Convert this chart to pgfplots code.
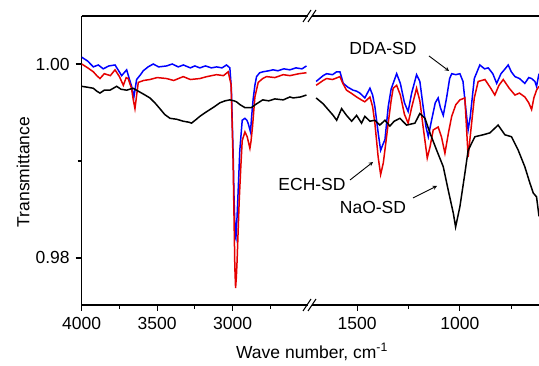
\documentclass[border=0pt]{standalone}
\usepackage{fontspec}
\setmainfont{Liberation Sans}
\usepackage{pgfplots}
\pgfplotsset{compat=1.18}
\begin{document}
\fontsize{17.5}{20}\selectfont
\begin{tikzpicture}
\useasboundingbox (0pt,0pt) rectangle (539pt,366pt);
\pgfplotsset{
  common/.style={
    scale only axis, height=289pt,
    ymin=0.97515, ymax=1.00495,
    x dir=reverse,
    tick align=outside,
    axis line style={line width=1.1pt,-},
    major tick length=6pt, minor tick length=4pt,
    every tick/.style={black,line width=1.1pt},
    /pgf/number format/assume math mode=true,
    tick label style={font=\fontsize{17.5}{20}\selectfont},
    clip mode=individual,
    /pgf/number format/.cd, fixed, 1000 sep={},
  },
}
% left panel
\begin{axis}[common, at={(81.7pt,61pt)}, anchor=south west, width=226.3pt,
  xmin=2500, xmax=4000,
  axis x line*=bottom, axis y line*=left,
  xtick={3000,3500,4000}, minor xtick={2750,3250,3750},
  ytick={0.98,1.00}, minor ytick={0.99},
  yticklabel style={/pgf/number format/.cd,fixed,fixed zerofill,precision=2}]
\addplot[blue, line width=1.5pt] coordinates {
(4000,1.0007)(3960,1.0003)(3923,0.9997)(3890,0.9999)(3857,0.9995)(3820,0.9998)(3779,0.9999)(3755,0.9993)(3735,0.9988)(3702,0.9994)(3685,0.9985)(3669,0.9977)(3654,0.9966)(3636,0.9984)(3610,0.9989)(3592,0.9993)(3560,0.9997)(3526,1.0000)(3490,0.9997)(3437,0.9998)(3400,1.0000)(3360,0.9997)(3326,0.9999)(3280,0.9996)(3250,0.9998)(3217,0.9996)(3180,0.9998)(3140,0.9996)(3106,0.9997)(3070,0.9996)(3040,0.9999)(3018,0.9996)(3008,0.9975)(3003,0.9946)(2995,0.9900)(2990,0.9860)(2982,0.9822)(2978,0.9820)(2970,0.9843)(2960,0.9880)(2952,0.9911)(2936,0.9942)(2918,0.9944)(2905,0.9942)(2897,0.9939)(2881,0.9930)(2874,0.9945)(2864,0.9963)(2852,0.9978)(2841,0.9987)(2820,0.9991)(2797,0.9992)(2760,0.9993)(2731,0.9994)(2700,0.9993)(2660,0.9995)(2620,0.9994)(2580,0.9996)(2540,0.9995)(2510,0.9998)};
\addplot[red!90!black, line width=1.5pt] coordinates {
(4000,1.0000)(3960,0.9996)(3923,0.9992)(3900,0.9988)(3879,0.9985)(3850,0.9990)(3810,0.9988)(3779,0.9994)(3750,0.9987)(3724,0.9978)(3705,0.9986)(3692,0.9985)(3670,0.9975)(3658,0.9963)(3647,0.9954)(3625,0.9981)(3590,0.9983)(3548,0.9984)(3500,0.9986)(3437,0.9985)(3390,0.9983)(3327,0.9987)(3280,0.9984)(3217,0.9985)(3170,0.9987)(3106,0.9989)(3060,0.9988)(3029,0.9992)(3010,0.9979)(3003,0.9940)(2996,0.9896)(2988,0.9820)(2985,0.9791)(2980,0.9769)(2975,0.9780)(2970,0.9797)(2956,0.9859)(2945,0.9895)(2936,0.9921)(2918,0.9930)(2903,0.9925)(2885,0.9913)(2878,0.9920)(2868,0.9935)(2852,0.9966)(2830,0.9981)(2800,0.9985)(2775,0.9987)(2720,0.9986)(2664,0.9989)(2620,0.9988)(2560,0.9990)(2510,0.9991)};
\addplot[black, line width=1.5pt] coordinates {
(4000,0.9977)(3960,0.9976)(3923,0.9975)(3900,0.9972)(3879,0.9970)(3850,0.9973)(3813,0.9973)(3790,0.9975)(3768,0.9977)(3740,0.9974)(3702,0.9973)(3660,0.9975)(3614,0.9971)(3580,0.9968)(3548,0.9965)(3515,0.9960)(3482,0.9954)(3450,0.9948)(3415,0.9944)(3370,0.9943)(3327,0.9941)(3290,0.9940)(3272,0.9939)(3240,0.9943)(3217,0.9946)(3180,0.9950)(3150,0.9953)(3120,0.9956)(3084,0.9960)(3050,0.9962)(3018,0.9963)(2990,0.9962)(2974,0.9961)(2950,0.9958)(2918,0.9955)(2890,0.9955)(2875,0.9955)(2850,0.9958)(2830,0.9960)(2800,0.9963)(2760,0.9962)(2720,0.9964)(2664,0.9963)(2620,0.9966)(2598,0.9965)(2550,0.9966)(2510,0.9968)};
\draw[line width=1.1pt] (rel axis cs:0,1) -- (rel axis cs:1,1);
\end{axis}
% right panel
\begin{axis}[common, at={(311pt,61pt)}, anchor=south west, width=228pt,
  xmin=615, xmax=1725,
  axis x line*=bottom, hide y axis,
  xtick={1000,1500}, minor xtick={750,1250}]
\addplot[blue, line width=1.5pt] coordinates {
(1700,0.9982)(1666,0.9988)(1649,0.9990)(1620,0.9989)(1600,0.9992)(1584,0.9992)(1568,0.9980)(1545,0.9976)(1520,0.9973)(1503,0.9972)(1487,0.9970)(1463,0.9965)(1438,0.9975)(1425,0.9968)(1414,0.9956)(1398,0.9929)(1386,0.9911)(1375,0.9917)(1365,0.9922)(1349,0.9956)(1335,0.9974)(1325,0.9980)(1308,0.9990)(1290,0.9980)(1270,0.9960)(1252,0.9951)(1235,0.9970)(1211,0.9989)(1195,0.9982)(1179,0.9956)(1165,0.9935)(1154,0.9925)(1140,0.9940)(1120,0.9960)(1106,0.9965)(1095,0.9955)(1081,0.9947)(1065,0.9965)(1050,0.9985)(1040,0.9990)(1020,0.9989)(1000,0.9990)(985,0.9982)(972,0.9955)(960,0.9932)(950,0.9945)(930,0.9985)(903,0.9999)(880,0.9995)(862,0.9996)(840,0.9990)(821,0.9980)(800,0.9990)(780,0.9995)(765,0.9999)(750,0.9992)(732,0.9987)(710,0.9985)(684,0.9980)(665,0.9986)(651,0.9985)(635,0.9982)(627,0.9977)(615,0.9990)};
\addplot[red!90!black, line width=1.5pt] coordinates {
(1700,0.9978)(1666,0.9983)(1649,0.9985)(1620,0.9984)(1584,0.9987)(1570,0.9980)(1552,0.9973)(1530,0.9970)(1503,0.9966)(1480,0.9963)(1463,0.9961)(1438,0.9966)(1425,0.9956)(1414,0.9939)(1398,0.9904)(1386,0.9886)(1373,0.9898)(1360,0.9920)(1349,0.9939)(1335,0.9962)(1325,0.9975)(1308,0.9978)(1290,0.9968)(1270,0.9948)(1252,0.9939)(1235,0.9955)(1211,0.9975)(1195,0.9962)(1179,0.9935)(1159,0.9903)(1145,0.9915)(1130,0.9932)(1106,0.9935)(1090,0.9925)(1073,0.9908)(1055,0.9930)(1040,0.9946)(1020,0.9958)(1000,0.9963)(976,0.9965)(968,0.9935)(960,0.9904)(950,0.9925)(930,0.9965)(911,0.9982)(878,0.9984)(850,0.9975)(830,0.9968)(810,0.9978)(789,0.9984)(760,0.9975)(732,0.9968)(710,0.9970)(684,0.9966)(665,0.9960)(651,0.9953)(640,0.9965)(627,0.9973)(615,0.9977)};
\addplot[black, line width=1.5pt] coordinates {
(1700,0.9965)(1666,0.9959)(1617,0.9947)(1600,0.9942)(1576,0.9954)(1552,0.9947)(1527,0.9941)(1503,0.9947)(1479,0.9939)(1463,0.9946)(1438,0.9941)(1414,0.9942)(1390,0.9937)(1365,0.9942)(1341,0.9936)(1320,0.9941)(1292,0.9944)(1260,0.9937)(1219,0.9939)(1195,0.9949)(1170,0.9944)(1146,0.9929)(1113,0.9911)(1081,0.9894)(1057,0.9870)(1032,0.9846)(1021,0.9832)(1000,0.9853)(976,0.9887)(960,0.9911)(927,0.9925)(887,0.9927)(854,0.9929)(814,0.9937)(781,0.9927)(749,0.9925)(716,0.9911)(684,0.9894)(659,0.9877)(643,0.9867)(627,0.9863)(615,0.9843)};
\draw[line width=1.1pt] (rel axis cs:0,1) -- (rel axis cs:1,1);
\end{axis}
% axis break marks
\fill[white] (308.5pt,55pt) rectangle (311.5pt,67pt);
\fill[white] (308.5pt,344pt) rectangle (311.5pt,356pt);
\foreach \yy in {61,350} {
  \draw[line width=1.1pt] (303pt,\yy pt-6pt) -- (311pt,\yy pt+6pt);
  \draw[line width=1.1pt] (308pt,\yy pt-6pt) -- (316pt,\yy pt+6pt);
}
% labels
\node[rotate=90] at (23pt,194pt) {Transmittance};
\node at (312pt,14pt) {Wave number, cm\textsuperscript{-1}};
% annotations
\node at (383pt,318pt) {DDA-SD};
\draw[line width=0.9pt,-stealth] (429pt,310pt) -- (449pt,295pt);
\node at (312pt,182pt) {ECH-SD};
\draw[line width=0.9pt,-stealth] (350pt,186pt) -- (373pt,204pt);
\node at (373pt,159pt) {NaO-SD};
\draw[line width=0.9pt,-stealth] (413pt,168pt) -- (437pt,180pt);
\end{tikzpicture}
\end{document}
